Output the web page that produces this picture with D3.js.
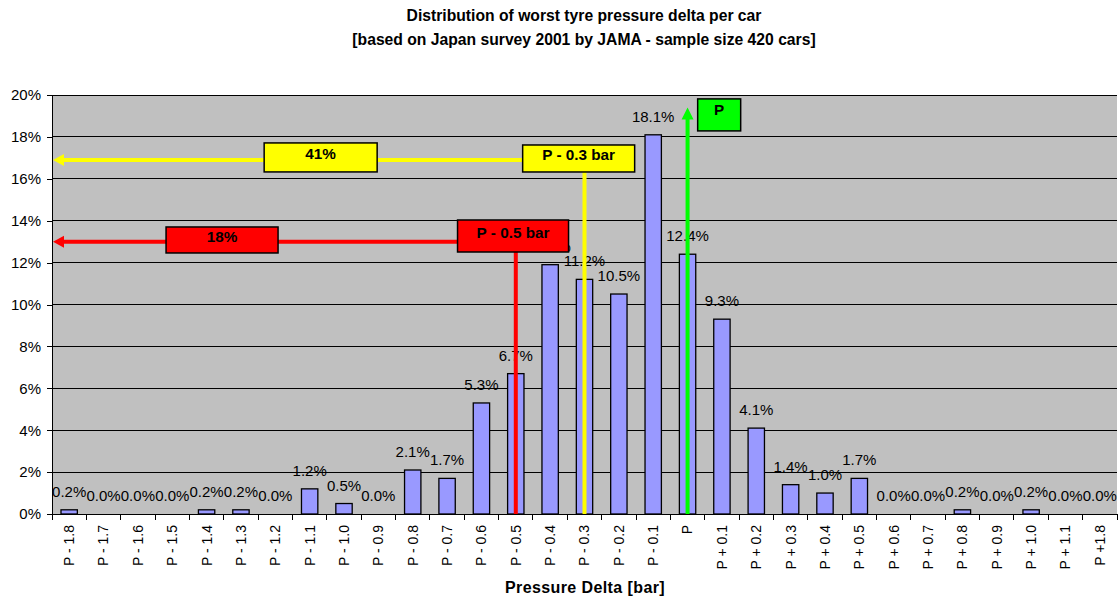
<!DOCTYPE html>
<meta charset="utf-8">
<style>
body { margin: 0; font-family: "Liberation Sans", Arial, sans-serif; background: #fff; }
.axis path, .axis line { stroke: #000; shape-rendering: crispEdges; }
.grid line { stroke: #000; shape-rendering: crispEdges; }
</style>
<body>
<script src="https://cdn.jsdelivr.net/npm/d3@7"></script>
<script>
// categories and values (percent of cars)
var categories = ["P - 1.8", "P - 1.7", "P - 1.6", "P - 1.5", "P - 1.4", "P - 1.3", "P - 1.2",
    "P - 1.1", "P - 1.0", "P - 0.9", "P - 0.8", "P - 0.7", "P - 0.6", "P - 0.5", "P - 0.4",
    "P - 0.3", "P - 0.2", "P - 0.1", "P", "P + 0.1", "P + 0.2", "P + 0.3", "P + 0.4", "P + 0.5",
    "P + 0.6", "P + 0.7", "P + 0.8", "P + 0.9", "P + 1.0", "P + 1.1", "P +1.8"];
var shares = [0.2, 0.0, 0.0, 0.0, 0.2, 0.2, 0.0, 1.2, 0.5, 0.0, 2.1, 1.7, 5.3, 6.7, 11.9,
    11.2, 10.5, 18.1, 12.4, 9.3, 4.1, 1.4, 1.0, 1.7, 0.0, 0.0, 0.2, 0.0, 0.2, 0.0, 0.0];
var yTicks = [0, 2, 4, 6, 8, 10, 12, 14, 16, 18, 20];

// marker lines: [category, level %]
var markers = [
    {cat: "P - 0.3", level: 16.9, color: "#ffff00"},
    {cat: "P - 0.5", level: 13.0, color: "#ff0000"}
];
var nominal = {cat: "P", level: 19.4, color: "#00ff00"};
// label boxes: band position (in bands from left), value, text
var boxes = [
    {band: 7.82, level: 17.02, w: 113, h: 29, text: "41%", fill: "#ffff00"},
    {band: 15.33, level: 16.97, w: 112, h: 27, text: "P - 0.3 bar", fill: "#ffff00"},
    {band: 4.95, level: 13.08, w: 112, h: 26, text: "18%", fill: "#ff0000"},
    {band: 13.42, level: 13.27, w: 111, h: 32, text: "P - 0.5 bar", fill: "#ff0000"},
    {band: 19.42, level: 19.05, w: 43, h: 32, text: "P", fill: "#00ff00", top: true}
];

var W = 1118, H = 599;
var plotL = 52, plotR = 1117, plotT = 95, plotB = 514;

var svg = d3.select("body").append("svg")
    .attr("width", W).attr("height", H);

var x = d3.scaleBand().domain(categories).range([plotL, plotR]).paddingInner(0).paddingOuter(0);
var y = d3.scaleLinear().domain([0, 20]).range([plotB, plotT]);
var bw = x.bandwidth() / 2.1;

// title
svg.append("text").attr("x", 584).attr("y", 21).attr("text-anchor", "middle")
    .style("font-size", "15.7px").style("font-weight", "bold")
    .text("Distribution of worst tyre pressure delta per car");
svg.append("text").attr("x", 584).attr("y", 45).attr("text-anchor", "middle")
    .style("font-size", "15.7px").style("font-weight", "bold")
    .text("[based on Japan survey 2001 by JAMA - sample size 420 cars]");

// plot background
svg.append("rect").attr("x", plotL).attr("y", plotT)
    .attr("width", plotR - plotL).attr("height", plotB - plotT)
    .attr("fill", "#c0c0c0");

// gridlines
svg.append("g").attr("class", "grid")
    .selectAll("line").data(yTicks.slice(1)).enter().append("line")
    .attr("x1", plotL).attr("x2", plotR)
    .attr("y1", function(d) { return y(d); }).attr("y2", function(d) { return y(d); });

// bars
svg.append("g").selectAll("rect").data(shares).enter().append("rect")
    .attr("x", function(d, i) { return x(categories[i]) + (x.bandwidth() - bw) / 2; })
    .attr("y", function(d) { return y(d); })
    .attr("width", bw)
    .attr("height", function(d) { return plotB - y(d); })
    .attr("fill", "#9999ff").attr("stroke", "#000").attr("stroke-width", 1.3);

// value labels
svg.append("g").selectAll("text").data(shares).enter().append("text")
    .attr("x", function(d, i) { return x(categories[i]) + x.bandwidth() / 2; })
    .attr("y", function(d) { return y(d) - 13; })
    .attr("text-anchor", "middle")
    .style("font-size", "15px").attr("fill", "#000")
    .text(function(d) { return d.toFixed(1) + "%"; });

// axes
svg.append("g").attr("class", "axis")
    .attr("transform", "translate(" + plotL + ",0)")
    .call(d3.axisLeft(y).tickValues(yTicks).tickSize(5).tickPadding(6)
        .tickFormat(function(d) { return d + "%"; }))
    .call(function(g) {
        g.selectAll("text").style("font-size", "15px").style("font-family", "Liberation Sans, Arial").attr("fill", "#000");
    });

var xAxis = svg.append("g").attr("class", "axis")
    .attr("transform", "translate(0," + plotB + ")");
xAxis.append("line").attr("x1", plotL).attr("x2", plotR).attr("stroke", "#000");
xAxis.selectAll("line.tk").data(d3.range(categories.length + 1)).enter().append("line")
    .attr("class", "tk")
    .attr("x1", function(i) { return plotL + i * x.step(); })
    .attr("x2", function(i) { return plotL + i * x.step(); })
    .attr("y1", 0).attr("y2", 6);
xAxis.selectAll("text").data(categories).enter().append("text")
    .attr("transform", function(d) {
        return "translate(" + (x(d) + x.bandwidth() / 2) + ",11) rotate(-90)";
    })
    .attr("dy", "0.35em")
    .attr("text-anchor", "end")
    .style("font-size", "14px")
    .text(function(d) { return d; });

svg.append("text").attr("x", 585).attr("y", 593).attr("text-anchor", "middle")
    .style("font-size", "16px").style("font-weight", "bold")
    .style("letter-spacing", "0.4px")
    .text("Pressure Delta [bar]");

// marker lines with arrows pointing to the axis
var ann = svg.append("g");
markers.forEach(function(m) {
    var cx = x(m.cat) + x.bandwidth() / 2, cy = y(m.level);
    ann.append("line").attr("x1", cx).attr("x2", cx).attr("y1", cy).attr("y2", plotB)
        .attr("stroke", m.color).attr("stroke-width", 4);
    ann.append("line").attr("x1", plotL + 8).attr("x2", cx).attr("y1", cy).attr("y2", cy)
        .attr("stroke", m.color).attr("stroke-width", 4);
    ann.append("path")
        .attr("d", "M" + (plotL + 1) + "," + cy + "L" + (plotL + 12) + "," + (cy - 6) + "L" + (plotL + 12) + "," + (cy + 6) + "Z")
        .attr("fill", m.color);
});
var gx = x(nominal.cat) + x.bandwidth() / 2, gy = y(nominal.level);
ann.append("line").attr("x1", gx).attr("x2", gx).attr("y1", gy + 8).attr("y2", plotB)
    .attr("stroke", nominal.color).attr("stroke-width", 4);
ann.append("path")
    .attr("d", "M" + gx + "," + gy + "L" + (gx - 6) + "," + (gy + 12) + "L" + (gx + 6) + "," + (gy + 12) + "Z")
    .attr("fill", nominal.color);

// label boxes
boxes.forEach(function(b) {
    var cx = plotL + b.band * x.step(), cy = y(b.level);
    ann.append("rect").attr("x", cx - b.w / 2).attr("y", cy - b.h / 2)
        .attr("width", b.w).attr("height", b.h)
        .attr("fill", b.fill).attr("stroke", "#000").attr("stroke-width", 1.5);
    ann.append("text").attr("x", cx).attr("y", b.top ? cy - b.h / 2 + 16 : cy + 2)
        .attr("text-anchor", "middle")
        .style("font-size", "15.3px").style("font-weight", "bold")
        .text(b.text);
});
</script>
</body>
